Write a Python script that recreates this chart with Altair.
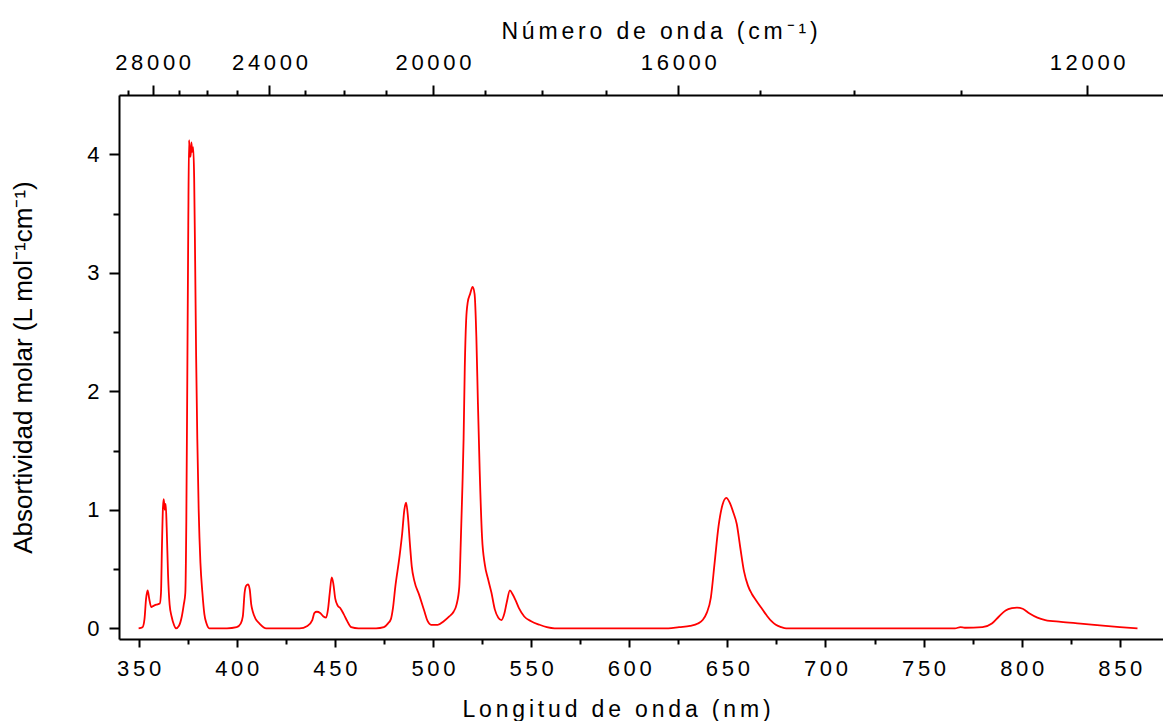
import altair as alt
import pandas as pd

# ---- data ----
WAVELENGTH_NM = [
    350, 352, 353, 353.8, 354.6, 355.4, 356.4, 357.6, 359, 360.8, 361.4, 361.9, 362.4, 362.8,
    363.3, 363.8, 364.3, 365, 365.8, 366.8, 368, 369, 370.5, 372, 373, 373.8, 374.3, 374.8,
    375.3, 375.7, 376.1, 376.5, 376.9, 377.3, 377.8, 378.3, 378.8, 379.3, 379.9, 380.6, 381.5,
    382.5, 383.5, 384.6, 386, 395, 400, 402, 403.1, 404, 404.8, 405.7, 406.6, 407.4, 408.2,
    409.6, 411.6, 415, 432, 436, 438.5, 439.6, 440.8, 442.5, 444.2, 445.5, 446.5, 447.4, 448.4,
    449.2, 450.2, 451.5, 452.8, 454.5, 456, 458.3, 462, 471, 475, 477, 478.6, 479.6, 480.8,
    482.9, 484.3, 485.4, 486.3, 487.2, 488.3, 489.2, 490.5, 493, 495.5, 497.3, 499, 502.4,
    505.5, 508.3, 510.5, 512, 513.4, 514.2, 515, 515.6, 516.2, 516.9, 517.7, 518.9, 520.2,
    521.2, 522.1, 522.9, 523.8, 525, 526.4, 528, 529.8, 531.5, 533.3, 534.9, 536.3, 537.6,
    539.2, 540.5, 542, 543.8, 546.5, 550, 554.3, 558, 562, 620, 625.4, 631, 635, 637.4, 639.5,
    641.6, 643.5, 645.5, 647.5, 649.5, 651.2, 653, 654.8, 656.6, 658.5, 660.5, 662.5, 664.5,
    667, 670, 672.5, 674.7, 677.5, 680, 700, 766, 768.8, 771, 780, 784.8, 788.4, 791.8, 795,
    797.6, 800.5, 804, 808, 812, 820, 830, 842.7, 850, 859,
]
ABSORPTIVITY = [
    0, 0.01, 0.08, 0.25, 0.32, 0.25, 0.18, 0.19, 0.2, 0.21, 0.3, 0.7, 1.02, 1.09,
    1.0, 1.05, 0.85, 0.45, 0.2, 0.1, 0.03, 0.0, 0.02, 0.1, 0.2, 0.3, 0.9, 2.1,
    3.4, 4.12, 4.0, 3.98, 4.1, 4.02, 4.06, 3.8, 3.1, 2.3, 1.6, 1.0, 0.55,
    0.3, 0.12, 0.04, 0.0, 0.0, 0.01, 0.04, 0.1, 0.3, 0.36, 0.37, 0.33, 0.2, 0.14,
    0.08, 0.04, 0.0, 0.0, 0.02, 0.07, 0.13, 0.14, 0.13, 0.1, 0.09, 0.16, 0.3, 0.43,
    0.38, 0.25, 0.19, 0.17, 0.12, 0.07, 0.01, 0.0, 0.0, 0.01, 0.04, 0.08, 0.17, 0.35,
    0.6, 0.8, 1.0, 1.06, 0.95, 0.7, 0.52, 0.4, 0.28, 0.15, 0.06, 0.03, 0.03,
    0.06, 0.1, 0.14, 0.2, 0.35, 0.75, 1.2, 1.6, 2.2, 2.6, 2.75, 2.82, 2.88,
    2.82, 2.46, 1.9, 1.33, 0.77, 0.54, 0.42, 0.3, 0.16, 0.09, 0.07, 0.12, 0.22,
    0.32, 0.29, 0.24, 0.17, 0.1, 0.06, 0.03, 0.01, 0.0, 0.0, 0.01, 0.02, 0.04, 0.07, 0.13,
    0.26, 0.55, 0.86, 1.04, 1.1, 1.06, 0.98, 0.88, 0.68, 0.48, 0.36, 0.29, 0.24,
    0.18, 0.11, 0.06, 0.03, 0.01, 0.0, 0.0, 0.0, 0.01, 0.005, 0.01, 0.04, 0.1, 0.15, 0.17,
    0.175, 0.165, 0.125, 0.09, 0.07, 0.055, 0.04, 0.02, 0.01, 0.0,
]

X_MAJOR = [350, 400, 450, 500, 550, 600, 650, 700, 750, 800, 850]
X_MINOR = [375, 425, 475, 525, 575, 625, 675, 725, 775, 825]
Y_MAJOR = [0, 1, 2, 3, 4]
Y_MINOR = [0.5, 1.5, 2.5, 3.5]
WAVENUMBER_MAJOR = [28000, 24000, 20000, 16000, 12000]
WAVENUMBER_MINOR = [29000, 27000, 26000, 25000, 23000, 22000, 21000,
                    19000, 18000, 17000, 15000, 14000, 13000]

X_TITLE = "Longitud de onda (nm)"
TOP_TITLE = "Número de onda (cm⁻¹)"
Y_TITLE = "Absortividad molar (L mol⁻¹cm⁻¹)"

df = pd.DataFrame({"wl": WAVELENGTH_NM, "a": ABSORPTIVITY})

SP = "\u200a\u200a"  # letter spacing imitation


def spaced(s):
    return SP.join(list(s))


FONT = "Liberation Sans"
common = dict(grid=False, domainColor="black", tickColor="black", labelColor="black",
              titleColor="black", labelFont=FONT, titleFont=FONT, tickWidth=2,
              domainWidth=2, labelFlush=False, labelOverlap=False)

xs = alt.Scale(domain=[340, 872], nice=False, zero=False)
ys = alt.Scale(domain=[-0.09, 4.5], nice=False, zero=False)

bottom_major = alt.Axis(orient="bottom", values=X_MAJOR, tickSize=8, labelFontSize=22,
                        labelPadding=28, labelBaseline="alphabetic",
                        labelExpr="join(split(datum.label, ''), '" + SP + "')",
                        titleFontSize=23, titleFontWeight="normal", titleX=497, titleY=77,
                        titleBaseline="alphabetic", titleAlign="center", **common)
bottom_minor = alt.Axis(orient="bottom", values=X_MINOR, tickSize=5, labels=False,
                        domain=False, **common)
left_major = alt.Axis(orient="left", values=Y_MAJOR, tickSize=10, labelPadding=10,
                      labelFontSize=22, format="d", titleFontSize=26, titleFontWeight="normal",
                      titleX=-88, titleY=272, titleBaseline="alphabetic", titleAlign="center",
                      **common)
left_minor = alt.Axis(orient="left", values=Y_MINOR, tickSize=6, labels=False,
                      domain=False, **common)
top_major = alt.Axis(orient="top", values=[1e7 / w for w in WAVENUMBER_MAJOR], tickSize=10,
                     labelFontSize=22, labelPadding=16, labelBaseline="alphabetic",
                     labelExpr="join(split(format(round(10000000 / datum.value), 'd'), ''), '" + SP + "')",
                     titleFontSize=23, titleFontWeight="normal", titleX=540, titleY=-57,
                     titleBaseline="alphabetic", titleAlign="center", **common)
top_minor = alt.Axis(orient="top", values=[1e7 / w for w in WAVENUMBER_MINOR], tickSize=5,
                     labels=False, domain=False, **common)

line = alt.Chart(df).mark_line(color="#ff0000", strokeWidth=1.8, interpolate="monotone").encode(
    x=alt.X("wl:Q", scale=xs, axis=bottom_major, title=spaced(X_TITLE)),
    y=alt.Y("a:Q", scale=ys, axis=left_major, title=Y_TITLE),
)
minor = alt.Chart(df).mark_line(opacity=0).encode(
    x=alt.X("wl:Q", scale=xs, axis=bottom_minor, title=None),
    y=alt.Y("a:Q", scale=ys, axis=left_minor, title=None),
)
topmaj = alt.Chart(df).mark_line(opacity=0).encode(
    x=alt.X("wl:Q", scale=xs, axis=top_major, title=spaced(TOP_TITLE)),
    y=alt.Y("a:Q", scale=ys, axis=None),
)
topmin = alt.Chart(df).mark_line(opacity=0).encode(
    x=alt.X("wl:Q", scale=xs, axis=top_minor, title=None),
    y=alt.Y("a:Q", scale=ys, axis=None),
)

chart = (
    alt.layer(line, minor, topmaj, topmin)
    .resolve_axis(x="independent", y="independent")
    .properties(width=1044, height=544,
                padding={"left": 119, "top": 95, "right": 0, "bottom": 82},
                autosize=alt.AutoSizeParams(type="none"), background="white")
    .configure_view(stroke=None)
)

chart.save("out.html", embed_options={"renderer": "svg", "actions": False})
